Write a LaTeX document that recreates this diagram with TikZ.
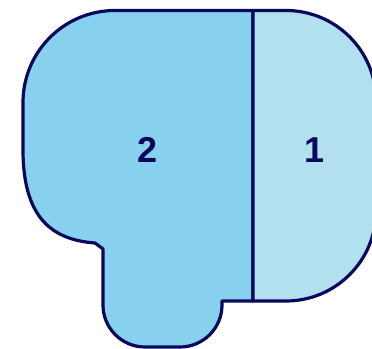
\documentclass[tikz,border=0pt]{standalone}
\usepackage{fontspec}
\setmainfont{Liberation Sans}
\usetikzlibrary{positioning}

\definecolor{rimblue}{RGB}{8,8,92}
\definecolor{skyfill}{RGB}{135,208,238}
\definecolor{paleblue}{RGB}{178,224,239}

\begin{document}
\begin{tikzpicture}[x=0.75pt,y=0.75pt,line width=2.4pt,line join=round]
  \tikzstyle{region}=[draw=rimblue]
  \tikzstyle{tag}=[text=rimblue,font=\bfseries\fontsize{27}{32}\selectfont,inner sep=0pt]
  \useasboundingbox (0,0) rectangle (372,349);
  \clip (0,0) rectangle (372,349);
  % region 2, with the foot below
  \draw[region,fill=skyfill] (253,338.5) -- (115,338.5)
    arc[start angle=90,end angle=180,radius=92] -- (23,199)
    .. controls (23,128) and (55,109) .. (95,106) -- (103,100) -- (103,44)
    arc[start angle=180,end angle=270,radius=42] -- (180,2)
    arc[start angle=270,end angle=360,radius=42] -- (222,48) -- (253,48) -- cycle;
  % region 1
  \draw[region,fill=paleblue] (253,338.5) -- (286,338.5)
    arc[start angle=90,end angle=0,radius=90] -- (376,138)
    arc[start angle=0,end angle=-90,radius=90] -- (253,48) -- cycle;
  \node[tag] (two) at (148,199) {2};
  \node[tag] (one) at (315,199) {1};
\end{tikzpicture}
\end{document}
